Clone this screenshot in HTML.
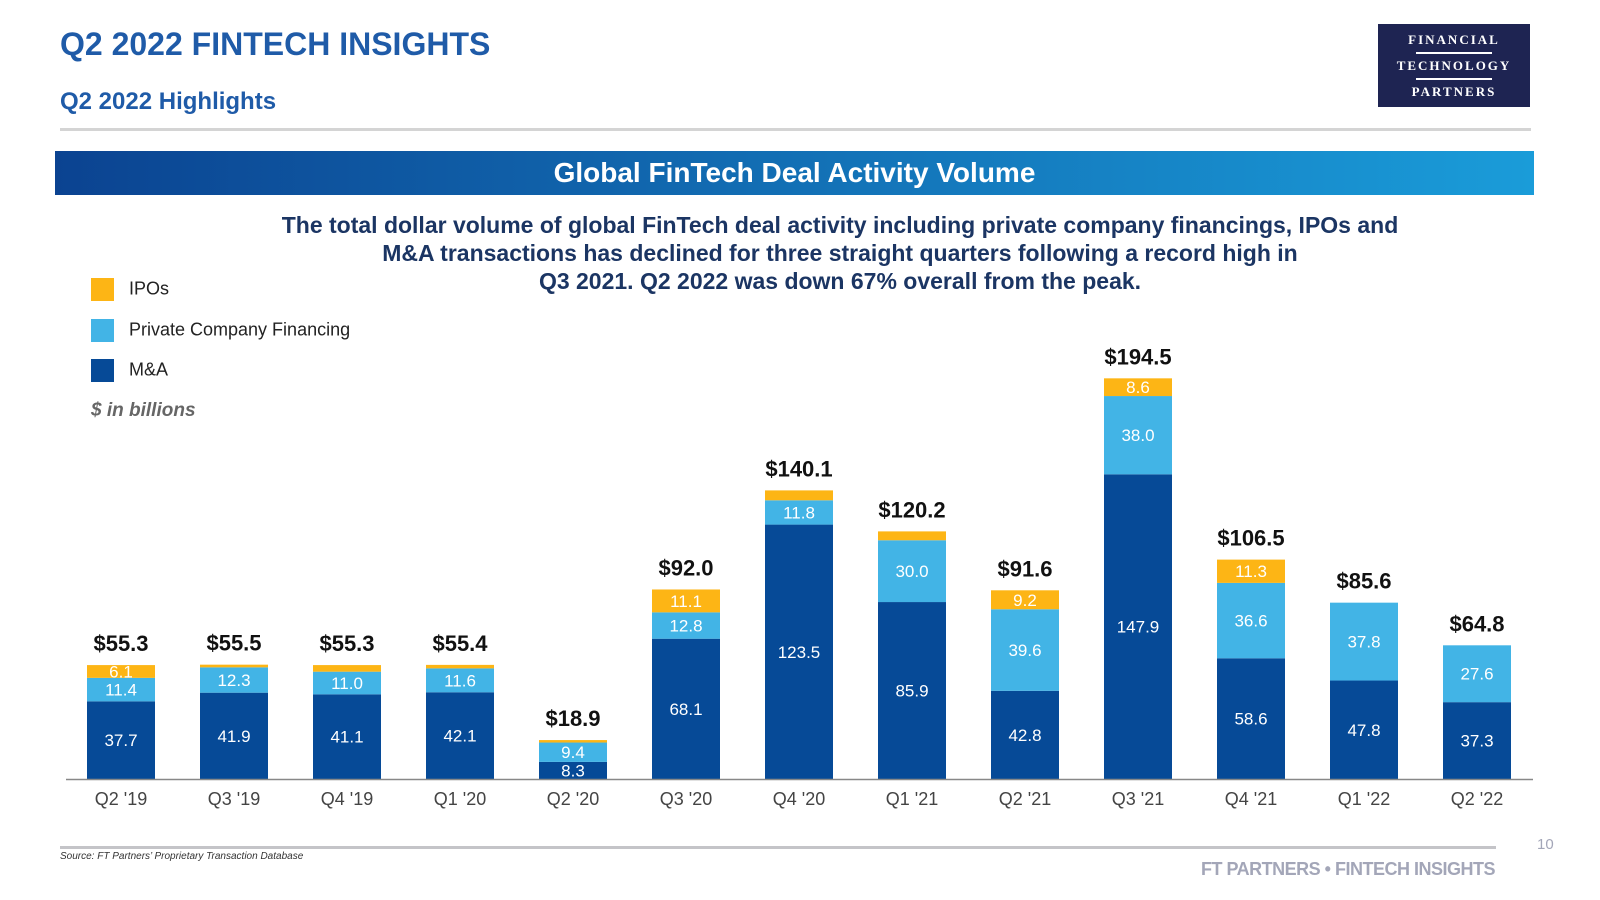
<!DOCTYPE html>
<html><head><meta charset="utf-8"><style>
body{margin:0;width:1600px;height:900px;background:#fff;font-family:"Liberation Sans",sans-serif;position:relative;overflow:hidden}
.a{position:absolute}
</style></head><body>
<div class="a" style="left:60px;top:26px;font-size:32px;font-weight:bold;color:#1f5ba8">Q2 2022 FINTECH INSIGHTS</div>
<div class="a" style="left:60px;top:88px;font-size:24px;font-weight:bold;color:#1f5ba8">Q2 2022 Highlights</div>
<div class="a" style="left:60px;top:128px;width:1471px;height:3px;background:#d4d4d4"></div>
<div class="a" style="left:1378px;top:24px;width:152px;height:83px;background:#1e2452;color:#fff;font-family:'Liberation Serif',serif;font-weight:bold;font-size:13px;letter-spacing:2px;text-align:center">
<div style="margin-top:8px">FINANCIAL</div><div style="width:76px;height:2px;background:#fff;margin:4px auto"></div>
<div>TECHNOLOGY</div><div style="width:76px;height:2px;background:#fff;margin:4px auto"></div>
<div>PARTNERS</div></div>
<div class="a" style="left:55px;top:151px;width:1479px;height:44px;background:linear-gradient(90deg,#0b4391,#1a9cd9);color:#fff;font-size:28px;font-weight:bold;text-align:center;line-height:44px">Global FinTech Deal Activity Volume</div>
<div class="a" style="left:190px;top:211px;width:1300px;text-align:center;font-size:23px;font-weight:bold;color:#1b3563;line-height:28px">The total dollar volume of global FinTech deal activity including private company financings, IPOs and<br>M&amp;A transactions has declined for three straight quarters following a record high in<br>Q3 2021. Q2 2022 was down 67% overall from the peak.</div>
<div class="a" style="left:91px;top:278px;font-size:18px;color:#222"><span style="display:inline-block;width:23px;height:23px;background:#fdb515;vertical-align:middle;margin-right:15px"></span>IPOs</div>
<div class="a" style="left:91px;top:319px;font-size:18px;color:#222"><span style="display:inline-block;width:23px;height:23px;background:#42b4e6;vertical-align:middle;margin-right:15px"></span>Private Company Financing</div>
<div class="a" style="left:91px;top:359px;font-size:18px;color:#222"><span style="display:inline-block;width:23px;height:23px;background:#064a97;vertical-align:middle;margin-right:15px"></span>M&amp;A</div>
<div class="a" style="left:91px;top:400px;font-size:19px;font-style:italic;font-weight:bold;color:#666">$ in billions</div>
<svg class="a" style="left:0;top:0" width="1600" height="900" id="chart"></svg>
<div class="a" style="left:60px;top:846px;width:1436px;height:3px;background:#c4c4c8"></div>
<div class="a" style="left:60px;top:851px;font-size:10px;font-style:italic;color:#333">Source: FT Partners’ Proprietary Transaction Database</div>
<div class="a" style="right:105px;top:859px;font-size:18px;font-weight:bold;color:#a3a6b8;letter-spacing:-0.5px">FT PARTNERS • FINTECH INSIGHTS</div>
<div class="a" style="left:1537px;top:836px;font-size:15px;color:#a3a6b8">10</div>
<script>
const categories=["Q2 '19","Q3 '19","Q4 '19","Q1 '20","Q2 '20","Q3 '20","Q4 '20","Q1 '21","Q2 '21","Q3 '21","Q4 '21","Q1 '22","Q2 '22"];
const maValues=[37.7,41.9,41.1,42.1,8.3,68.1,123.5,85.9,42.8,147.9,58.6,47.8,37.3];
const pcfValues=[11.4,12.3,11.0,11.6,9.4,12.8,11.8,30.0,39.6,38.0,36.6,37.8,27.6];
const ipoValues=[6.2,1.3,3.2,1.7,1.2,11.1,4.8,4.3,9.2,8.6,11.3,0,0];
const ipoLabels=["6.1",null,null,null,null,"11.1",null,null,"9.2","8.6","11.3",null,null];
const totalLabels=["$55.3","$55.5","$55.3","$55.4","$18.9","$92.0","$140.1","$120.2","$91.6","$194.5","$106.5","$85.6","$64.8"];
const svg=document.getElementById('chart');const NS='http://www.w3.org/2000/svg';
const base=779,ppu=2.06,x0=121,step=113.0,bw=68;
const xs=i=>x0+i*step;const ys=v=>base-v*ppu;
function mk(t,a,txt){const e=document.createElementNS(NS,t);for(const k in a)e.setAttribute(k,a[k]);if(txt!=null)e.textContent=txt;svg.appendChild(e);return e;}
categories.forEach((c,i)=>{
 const cx=xs(i);let acc=0;
 const segs=[[maValues[i],'#064a97',String(maValues[i].toFixed(1)),'ma'],[pcfValues[i],'#42b4e6',pcfValues[i].toFixed(1),'pcf'],[ipoValues[i],'#fdb515',ipoLabels[i],'ipo']];
 segs.forEach(s=>{
  if(s[0]<=0)return;
  const r=mk('rect',{x:cx-bw/2,y:ys(acc+s[0]),width:bw,height:s[0]*ppu,fill:s[1]});
  
  
  if(s[2]){const t=mk('text',{x:cx,y:ys(acc+s[0]/2)+6,'text-anchor':'middle','font-size':17,fill:'#fff','font-family':'Liberation Sans, sans-serif'},s[2]);
   
   }
  acc+=s[0];
 });
 const tot=maValues[i]+pcfValues[i]+ipoValues[i];
 const tl=mk('text',{x:cx,y:ys(tot)-14,'text-anchor':'middle','font-size':22,'font-weight':'bold',fill:'#111','font-family':'Liberation Sans, sans-serif'},totalLabels[i]);
 
 
 const cl=mk('text',{x:cx,y:805,'text-anchor':'middle','font-size':18,fill:'#444','font-family':'Liberation Sans, sans-serif'},c);
 
 
});
const ax=mk('line',{x1:66,x2:1533,y1:base+0.5,y2:base+0.5,stroke:'#888','stroke-width':1.5});


</script>
</body></html>
